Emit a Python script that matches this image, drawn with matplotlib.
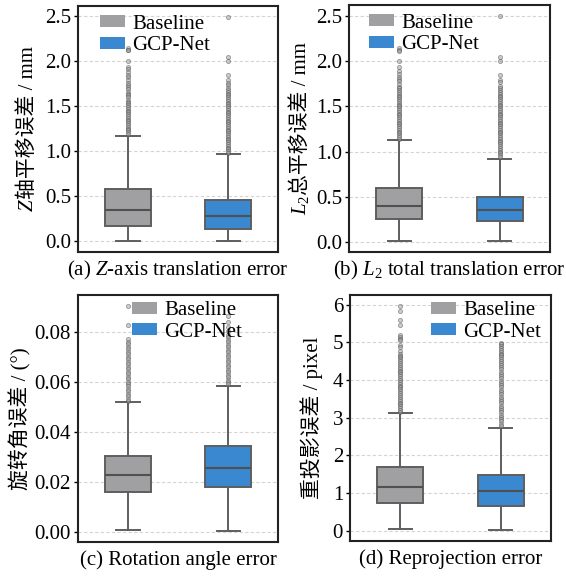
import numpy as np
import matplotlib
matplotlib.use("Agg")
import matplotlib.pyplot as plt
from matplotlib.patches import Patch

plt.rcParams['font.family'] = ['Liberation Serif', 'Noto Sans CJK SC']
plt.rcParams['mathtext.fontset'] = 'custom'
plt.rcParams['mathtext.rm'] = 'Liberation Serif'
plt.rcParams['mathtext.it'] = 'Liberation Serif:italic'
plt.rcParams['font.size'] = 15

methods = ["Baseline", "GCP-Net"]
colors = ["#a0a0a2", "#3a88cf"]

# box stats: q1, median, q3, whisker low, whisker high
z_stats = [(0.165, 0.350, 0.573, 0.002, 1.172), (0.130, 0.276, 0.461, 0.002, 0.963)]
z_fliers_base = [2.15, 2.13, 2.12, 2.00, 1.94, 1.91, 1.88, 1.85, 1.82, 1.79, 1.76, 1.74,
                 1.71, 1.69, 1.66, 1.64, 1.62, 1.60, 1.57, 1.55, 1.53, 1.51, 1.49, 1.47,
                 1.45, 1.43, 1.41, 1.39, 1.37, 1.35, 1.33, 1.31, 1.29, 1.27, 1.25, 1.23,
                 1.21, 1.19]
z_fliers_gcp = [2.49, 2.05, 2.00, 1.85, 1.79, 1.76, 1.73, 1.70, 1.68, 1.66, 1.64, 1.62,
                1.60, 1.58, 1.56, 1.54, 1.52, 1.50, 1.48, 1.46, 1.44, 1.42, 1.40, 1.38,
                1.36, 1.34, 1.32, 1.30, 1.28, 1.26, 1.24, 1.22, 1.20, 1.18, 1.16, 1.14,
                1.12, 1.10, 1.08, 1.06, 1.04, 1.02, 1.00, 0.98]

l2_stats = [(0.252, 0.400, 0.593, 0.010, 1.122), (0.230, 0.350, 0.500, 0.010, 0.915)]
l2_fliers_base = [2.15, 2.13, 2.11, 2.00, 1.94, 1.89, 1.86, 1.83, 1.80, 1.78, 1.75, 1.72,
                  1.70, 1.68, 1.66, 1.64, 1.62, 1.60, 1.58, 1.56, 1.54, 1.52, 1.50, 1.48,
                  1.46, 1.44, 1.42, 1.40, 1.38, 1.36, 1.34, 1.32, 1.30, 1.28, 1.26, 1.24,
                  1.22, 1.20, 1.18, 1.16, 1.14]
l2_fliers_gcp = [2.50, 2.05, 2.00, 1.85, 1.79, 1.77, 1.73, 1.70, 1.68, 1.66, 1.64, 1.62,
                 1.60, 1.58, 1.56, 1.54, 1.52, 1.50, 1.48, 1.46, 1.44, 1.42, 1.40, 1.38,
                 1.36, 1.34, 1.32, 1.30, 1.28, 1.26, 1.24, 1.22, 1.20, 1.18, 1.16, 1.14,
                 1.12, 1.10, 1.08, 1.06, 1.04, 1.02, 1.00, 0.98, 0.96, 0.94]

rot_stats = [(0.0159, 0.0226, 0.0303, 0.0005, 0.0518), (0.0179, 0.0254, 0.0342, 0.0003, 0.0585)]
rot_fliers_base = [0.0904, 0.0828, 0.0772, 0.0762, 0.0752, 0.0742, 0.0732, 0.0722, 0.0712,
                   0.0702, 0.0692, 0.0682, 0.0672, 0.0662, 0.0652, 0.0642, 0.0632, 0.0622,
                   0.0612, 0.0602, 0.0592, 0.0582, 0.0572, 0.0562, 0.0552, 0.0542, 0.0532,
                   0.0525]
rot_fliers_gcp = [0.0865, 0.0840, 0.0822, 0.0805, 0.0790, 0.0780, 0.0770, 0.0760, 0.0750,
                  0.0740, 0.0730, 0.0720, 0.0710, 0.0700, 0.0690, 0.0680, 0.0670, 0.0660,
                  0.0650, 0.0640, 0.0630, 0.0620, 0.0610, 0.0600, 0.0592]

rep_stats = [(0.74, 1.16, 1.68, 0.044, 3.11), (0.651, 1.04, 1.487, 0.02, 2.73)]
rep_fliers_base = [5.96, 5.84, 5.60, 5.47, 5.20, 5.15, 5.10, 5.05, 4.94, 4.88, 4.77, 4.70,
                   4.64, 4.60, 4.55, 4.50, 4.45, 4.40, 4.35, 4.30, 4.25, 4.20, 4.15, 4.10,
                   4.05, 4.00, 3.95, 3.90, 3.85, 3.80, 3.75, 3.70, 3.65, 3.60, 3.55, 3.50,
                   3.45, 3.40, 3.35, 3.30, 3.25, 3.20, 3.15]
rep_fliers_gcp = [4.99, 4.95, 4.90, 4.85, 4.80, 4.75, 4.70, 4.65, 4.60, 4.55, 4.50, 4.44,
                  4.40, 4.34, 4.28, 4.22, 4.16, 4.10, 4.04, 3.98, 3.92, 3.86, 3.80, 3.74,
                  3.68, 3.62, 3.56, 3.50, 3.44, 3.38, 3.32, 3.26, 3.20, 3.14, 3.08, 3.02,
                  2.96, 2.90, 2.84, 2.78]

# y labels are split in pieces: mathtext can't fall back to the CJK font
panels = [
    dict(stats=z_stats, fliers=[z_fliers_base, z_fliers_gcp],
         ylabel=["$Z$", "轴平移误差 / mm"], caption="(a) $Z$-axis translation error",
         yticks=[0.0, 0.5, 1.0, 1.5, 2.0, 2.5], fmt="{:.1f}",
         rect=[0.1378, 0.5625, 0.3534, 0.4271], leg=(0.11, 0.965), lab_x=33),
    dict(stats=l2_stats, fliers=[l2_fliers_base, l2_fliers_gcp],
         ylabel=["$L_2$", "总平移误差 / mm"], caption="(b) $L_2$ total translation error",
         yticks=[0.0, 0.5, 1.0, 1.5, 2.0, 2.5], fmt="{:.1f}",
         rect=[0.6166, 0.5625, 0.3551, 0.4288], leg=(0.10, 0.965), lab_x=306),
    dict(stats=rot_stats, fliers=[rot_fliers_base, rot_fliers_gcp],
         ylabel=["旋转角误差 / (°)"], caption="(c) Rotation angle error",
         yticks=[0.00, 0.02, 0.04, 0.06, 0.08], fmt="{:.2f}",
         rect=[0.1378, 0.0590, 0.3534, 0.4288], leg=(0.27, 0.975), lab_x=26),
    dict(stats=rep_stats, fliers=[rep_fliers_base, rep_fliers_gcp],
         ylabel=["重投影误差 / pixel"], caption="(d) Reprojection error",
         yticks=[0, 1, 2, 3, 4, 5, 6], fmt="{:.0f}",
         rect=[0.6184, 0.0608, 0.3551, 0.4271], leg=(0.403, 0.975), lab_x=318),
]

W, H = 566, 576
fig = plt.figure(figsize=(W / 100, H / 100), dpi=100)
edge = "#5e5e5e"

label_parts = []
for p in panels:
    ax = fig.add_axes(p["rect"])
    bxp_stats = []
    for (q1, med, q3, lo, hi), fl, name in zip(p["stats"], p["fliers"], methods):
        bxp_stats.append(dict(q1=q1, med=med, q3=q3, whislo=lo, whishi=hi,
                              fliers=fl, label=name))
    bp = ax.bxp(bxp_stats, positions=[0, 1], widths=0.46, patch_artist=True,
                boxprops=dict(edgecolor=edge, linewidth=1.4),
                whiskerprops=dict(color=edge, linewidth=1.4),
                capprops=dict(color=edge, linewidth=1.4),
                medianprops=dict(color="#505050", linewidth=1.5),
                flierprops=dict(marker="o", markersize=3, markerfacecolor="#9a9a9a",
                                markeredgecolor="#4a4a4a", markeredgewidth=0.6,
                                alpha=0.5))
    for box, c in zip(bp["boxes"], colors):
        box.set_facecolor(c)
    ax.set_xlim(-0.5, 1.5)
    ax.set_xticks([])
    ax.set_yticks(p["yticks"])
    ax.set_yticklabels([p["fmt"].format(v) for v in p["yticks"]])
    ax.tick_params(axis="y", length=3, width=1, pad=2, labelsize=15)
    ax.yaxis.grid(True, linestyle=(0, (3, 2)), color="#d4d4d4", linewidth=0.8)
    ax.set_axisbelow(True)
    for s in ax.spines.values():
        s.set_linewidth(1.5)
        s.set_color("#222222")
    handles = [Patch(facecolor=c, edgecolor="none") for c in colors]
    ax.legend(handles, methods, loc="upper left", bbox_to_anchor=p["leg"],
              frameon=False, borderpad=0, borderaxespad=0, fontsize=15,
              handlelength=1.2, handleheight=0.5, handletextpad=0.35,
              labelspacing=0.12)
    r = p["rect"]
    fig.text(r[0] + r[2] / 2, r[1] - 0.032, p["caption"], ha="center", va="center",
             fontsize=15)
    texts = [fig.text(0, 0, s, rotation=90, rotation_mode="anchor", ha="left",
                      va="baseline", fontsize=15) for s in p["ylabel"]]
    label_parts.append((p, texts))

# place the label pieces one after another, centred on the axes
fig.canvas.draw()
renderer = fig.canvas.get_renderer()
for p, texts in label_parts:
    r = p["rect"]
    lengths = [t.get_window_extent(renderer).height for t in texts]
    y = (r[1] + r[3] / 2) * H - sum(lengths) / 2
    for t, L in zip(texts, lengths):
        t.set_position((p["lab_x"] / W, y / H))
        y += L

plt.savefig("out.png", dpi=100)
